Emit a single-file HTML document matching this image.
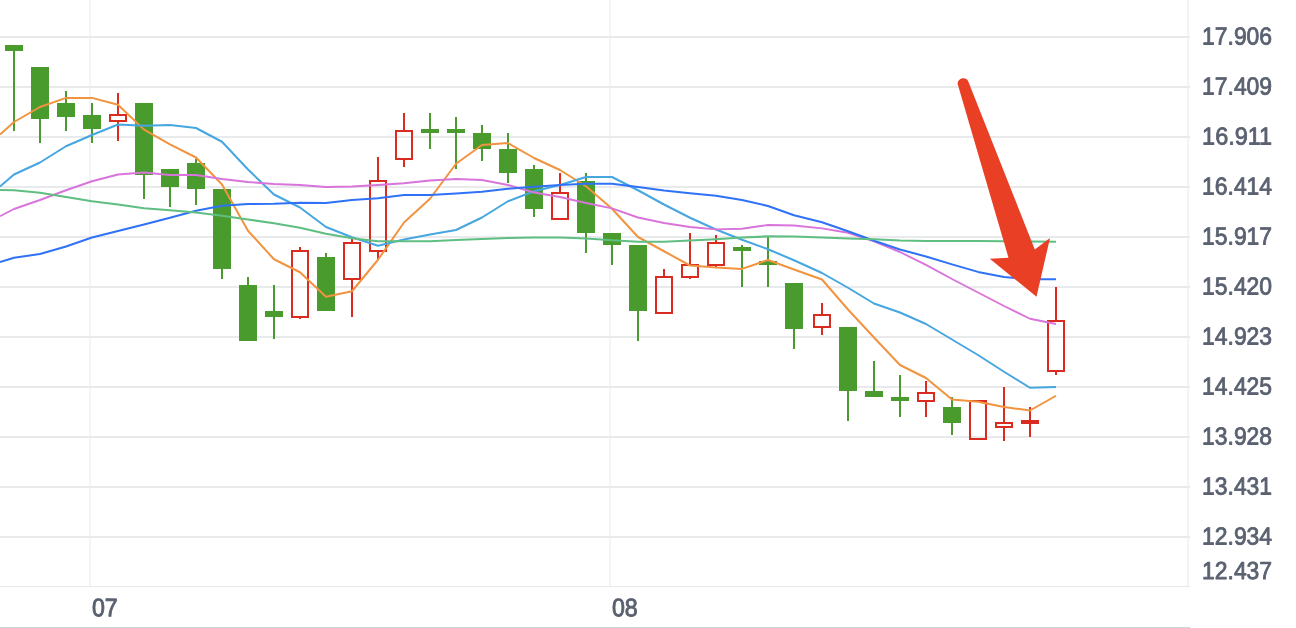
<!DOCTYPE html>
<html lang="zh"><head><meta charset="utf-8"><title>K线图</title>
<style>
html,body{margin:0;padding:0;background:#fff;}
body{width:1296px;height:628px;overflow:hidden;}
svg{display:block}
svg{will-change:transform;}
text{font-family:"Liberation Sans","DejaVu Sans",sans-serif;font-size:24.6px;fill:#5a6170;stroke:#5a6170;stroke-width:0.85px;stroke-linejoin:round;}
text.b{font-size:25.3px;stroke-width:0.95px;}
</style></head><body>
<svg width="1296" height="628" viewBox="0 0 1296 628">
<rect width="1296" height="628" fill="#fff"/>

<g fill="#f3f4f5">
<rect x="89" y="0" width="2" height="586"/>
<rect x="609" y="0" width="2" height="586"/>
<rect x="1187" y="0" width="2" height="586"/>
</g>
<g fill="#e8eaeb">
<rect x="0" y="36" width="1190" height="2"/>
<rect x="0" y="86" width="1190" height="2"/>
<rect x="0" y="136" width="1190" height="2"/>
<rect x="0" y="186" width="1190" height="2"/>
<rect x="0" y="236" width="1190" height="2"/>
<rect x="0" y="286" width="1190" height="2"/>
<rect x="0" y="336" width="1190" height="2"/>
<rect x="0" y="386" width="1190" height="2"/>
<rect x="0" y="436" width="1190" height="2"/>
<rect x="0" y="486" width="1190" height="2"/>
<rect x="0" y="536" width="1190" height="2"/>
<rect x="0" y="586" width="1190" height="1.1" fill="#e6e8ea"/>
</g>
<rect x="0" y="627" width="1190" height="1" fill="#cdd2d6"/>
<g shape-rendering="crispEdges">
<rect x="13" y="45" width="2" height="86" fill="#4a9b2d"/>
<rect x="5" y="45" width="18" height="6" fill="#4a9b2d"/>
<rect x="39" y="67" width="2" height="76" fill="#4a9b2d"/>
<rect x="31" y="67" width="18" height="52" fill="#4a9b2d"/>
<rect x="65" y="91" width="2" height="40" fill="#4a9b2d"/>
<rect x="57" y="103" width="18" height="14" fill="#4a9b2d"/>
<rect x="91" y="103" width="2" height="40" fill="#4a9b2d"/>
<rect x="83" y="115" width="18" height="14" fill="#4a9b2d"/>
<rect x="117" y="93" width="2" height="21" fill="#d92b20"/>
<rect x="117" y="122" width="2" height="19" fill="#d92b20"/>
<rect x="110" y="115" width="16" height="6" fill="none" stroke="#d92b20" stroke-width="2"/>
<rect x="143" y="103" width="2" height="96" fill="#4a9b2d"/>
<rect x="135" y="103" width="18" height="72" fill="#4a9b2d"/>
<rect x="169" y="169" width="2" height="38" fill="#4a9b2d"/>
<rect x="161" y="169" width="18" height="18" fill="#4a9b2d"/>
<rect x="195" y="159" width="2" height="46" fill="#4a9b2d"/>
<rect x="187" y="163" width="18" height="26" fill="#4a9b2d"/>
<rect x="221" y="189" width="2" height="90" fill="#4a9b2d"/>
<rect x="213" y="189" width="18" height="80" fill="#4a9b2d"/>
<rect x="247" y="277" width="2" height="64" fill="#4a9b2d"/>
<rect x="239" y="285" width="18" height="56" fill="#4a9b2d"/>
<rect x="273" y="285" width="2" height="54" fill="#4a9b2d"/>
<rect x="265" y="311" width="18" height="6" fill="#4a9b2d"/>
<rect x="299" y="247" width="2" height="3" fill="#d92b20"/>
<rect x="299" y="318" width="2" height="1" fill="#d92b20"/>
<rect x="292" y="251" width="16" height="66" fill="none" stroke="#d92b20" stroke-width="2"/>
<rect x="325" y="253" width="2" height="58" fill="#4a9b2d"/>
<rect x="317" y="257" width="18" height="54" fill="#4a9b2d"/>
<rect x="351" y="239" width="2" height="3" fill="#d92b20"/>
<rect x="351" y="280" width="2" height="37" fill="#d92b20"/>
<rect x="344" y="243" width="16" height="36" fill="none" stroke="#d92b20" stroke-width="2"/>
<rect x="377" y="157" width="2" height="23" fill="#d92b20"/>
<rect x="377" y="252" width="2" height="8" fill="#d92b20"/>
<rect x="370" y="181" width="16" height="70" fill="none" stroke="#d92b20" stroke-width="2"/>
<rect x="403" y="113" width="2" height="17" fill="#d92b20"/>
<rect x="403" y="160" width="2" height="7" fill="#d92b20"/>
<rect x="396" y="131" width="16" height="28" fill="none" stroke="#d92b20" stroke-width="2"/>
<rect x="429" y="113" width="2" height="36" fill="#4a9b2d"/>
<rect x="421" y="129" width="18" height="4" fill="#4a9b2d"/>
<rect x="455" y="117" width="2" height="52" fill="#4a9b2d"/>
<rect x="447" y="129" width="18" height="4" fill="#4a9b2d"/>
<rect x="481" y="125" width="2" height="36" fill="#4a9b2d"/>
<rect x="473" y="133" width="18" height="16" fill="#4a9b2d"/>
<rect x="507" y="133" width="2" height="50" fill="#4a9b2d"/>
<rect x="499" y="149" width="18" height="24" fill="#4a9b2d"/>
<rect x="533" y="165" width="2" height="52" fill="#4a9b2d"/>
<rect x="525" y="169" width="18" height="40" fill="#4a9b2d"/>
<rect x="559" y="173" width="2" height="19" fill="#d92b20"/>
<rect x="552" y="193" width="16" height="26" fill="none" stroke="#d92b20" stroke-width="2"/>
<rect x="585" y="173" width="2" height="80" fill="#4a9b2d"/>
<rect x="577" y="181" width="18" height="52" fill="#4a9b2d"/>
<rect x="611" y="233" width="2" height="32" fill="#4a9b2d"/>
<rect x="603" y="233" width="18" height="12" fill="#4a9b2d"/>
<rect x="637" y="245" width="2" height="96" fill="#4a9b2d"/>
<rect x="629" y="245" width="18" height="66" fill="#4a9b2d"/>
<rect x="663" y="269" width="2" height="7" fill="#d92b20"/>
<rect x="656" y="277" width="16" height="36" fill="none" stroke="#d92b20" stroke-width="2"/>
<rect x="689" y="233" width="2" height="31" fill="#d92b20"/>
<rect x="689" y="278" width="2" height="1" fill="#d92b20"/>
<rect x="682" y="265" width="16" height="12" fill="none" stroke="#d92b20" stroke-width="2"/>
<rect x="715" y="235" width="2" height="7" fill="#d92b20"/>
<rect x="715" y="266" width="2" height="1" fill="#d92b20"/>
<rect x="708" y="243" width="16" height="22" fill="none" stroke="#d92b20" stroke-width="2"/>
<rect x="741" y="245" width="2" height="42" fill="#4a9b2d"/>
<rect x="733" y="247" width="18" height="4" fill="#4a9b2d"/>
<rect x="767" y="237" width="2" height="50" fill="#4a9b2d"/>
<rect x="759" y="261" width="18" height="4" fill="#4a9b2d"/>
<rect x="793" y="283" width="2" height="66" fill="#4a9b2d"/>
<rect x="785" y="283" width="18" height="46" fill="#4a9b2d"/>
<rect x="821" y="303" width="2" height="11" fill="#d92b20"/>
<rect x="821" y="328" width="2" height="7" fill="#d92b20"/>
<rect x="814" y="315" width="16" height="12" fill="none" stroke="#d92b20" stroke-width="2"/>
<rect x="847" y="327" width="2" height="94" fill="#4a9b2d"/>
<rect x="839" y="327" width="18" height="64" fill="#4a9b2d"/>
<rect x="873" y="361" width="2" height="36" fill="#4a9b2d"/>
<rect x="865" y="391" width="18" height="6" fill="#4a9b2d"/>
<rect x="899" y="375" width="2" height="42" fill="#4a9b2d"/>
<rect x="891" y="397" width="18" height="4" fill="#4a9b2d"/>
<rect x="925" y="381" width="2" height="11" fill="#d92b20"/>
<rect x="925" y="402" width="2" height="15" fill="#d92b20"/>
<rect x="918" y="393" width="16" height="8" fill="none" stroke="#d92b20" stroke-width="2"/>
<rect x="951" y="397" width="2" height="38" fill="#4a9b2d"/>
<rect x="943" y="407" width="18" height="16" fill="#4a9b2d"/>
<rect x="970" y="401" width="16" height="38" fill="none" stroke="#d92b20" stroke-width="2"/>
<rect x="1003" y="387" width="2" height="35" fill="#d92b20"/>
<rect x="1003" y="428" width="2" height="13" fill="#d92b20"/>
<rect x="996" y="423" width="16" height="4" fill="none" stroke="#d92b20" stroke-width="2"/>
<rect x="1029" y="407" width="2" height="30" fill="#d92b20"/>
<rect x="1021" y="420" width="18" height="4" fill="#d92b20"/>
<rect x="1055" y="287" width="2" height="33" fill="#d92b20"/>
<rect x="1055" y="372" width="2" height="3" fill="#d92b20"/>
<rect x="1048" y="321" width="16" height="50" fill="none" stroke="#d92b20" stroke-width="2"/>
</g>
<polyline points="0,134.6 14,122 40,107 66,97.9 92,97.9 118,104.8 144,129.6 170,144.4 196,157.5 222,184.5 248,230.75 274,259.25 300,272.25 326,296.75 352,291.25 378,259.75 404,222.5 430,198.75 456,163.75 482,145 508,143 534,158 560,170 586,186.25 612,208.75 638,237 664,251.25 690,265.5 716,267.5 742,268.9 768,260 794,269.5 822,279.5 848,309.5 874,337.5 900,365 926,378 952,399.5 978,401.75 1004,407 1030,410.5 1056,395.75" fill="none" stroke="#f1933f" stroke-width="2.0" stroke-linejoin="round" stroke-linecap="butt" opacity="1"/>
<polyline points="0,186.5 14,174.5 40,162.5 66,146.25 92,135 118,124.5 144,125.75 170,125 196,128 222,141.75 248,169.5 274,194.5 300,207.5 326,227 352,237.25 378,245.75 404,239.5 430,234.5 456,230 482,217.5 508,201.25 534,191.25 560,185 586,177 612,177 638,190.25 664,204.5 690,217.75 716,229.5 742,239.75 768,249.25 794,260.25 822,273 848,287.75 874,303.5 900,312.5 926,324 952,339.5 978,355 1004,371.75 1030,387.75 1056,387" fill="none" stroke="#46a6e0" stroke-width="2.0" stroke-linejoin="round" stroke-linecap="butt" opacity="1"/>
<polyline points="0,216.25 14,209 40,200 66,190.25 92,181.25 118,174.5 144,172.5 170,175 196,175 222,179 248,182 274,184 300,185 326,187 352,186.5 378,185 404,183.25 430,180.5 456,179 482,180 508,185 534,192.5 560,197 586,203 612,208.4 638,217.5 664,223 690,227 716,229.4 742,228.75 768,225 794,225.5 822,228.4 848,232.75 874,241.25 900,252 926,264.8 952,279 978,292.5 1004,306 1030,318.75 1056,324" fill="none" stroke="#d874da" stroke-width="1.9" stroke-linejoin="round" stroke-linecap="butt" opacity="1"/>
<polyline points="0,262 14,257.75 40,254 66,246.5 92,237.5 118,231 144,224.5 170,217.75 196,210.75 222,205.75 248,204 274,203.75 300,202.75 326,203 352,200 378,198.25 404,195 430,195 456,193.5 482,191.75 508,188.75 534,186.75 560,185 586,183.75 612,183.75 638,187 664,190.5 690,193.25 716,195.75 742,200 768,206 794,215.25 822,222.25 848,231.25 874,240.75 900,249.5 926,256.5 952,264.4 978,271.9 1004,277 1030,279.25 1056,279.25" fill="none" stroke="#2f72f7" stroke-width="2.0" stroke-linejoin="round" stroke-linecap="butt" opacity="1"/>
<polyline points="0,190.0 14,190.25 40,192.75 66,197 92,201.25 118,204.5 144,208.25 170,210.25 196,212.5 222,215.75 248,219.5 274,223.25 300,227.75 326,233.75 352,238.25 378,241.25 404,241.25 430,241.25 456,240 482,239 508,238 534,237.5 560,237.5 586,238.5 612,240.25 638,241.75 664,241.75 690,240.5 716,239.25 742,237.5 768,236.4 794,236.5 822,237.5 848,238.5 874,239.25 900,240.5 926,241 952,241 978,241 1004,241.25 1030,241.5 1056,241.75" fill="none" stroke="#5fbe82" stroke-width="2.2" stroke-linejoin="round" stroke-linecap="butt" opacity="1"/>
<path d="M957.8,84.5 C956.5,78.5 966,75.5 968.3,81.5 L1034.8,249.4 L1050,238 L1036.5,296.8 L989.8,258.7 L1008.5,257.8 Z" fill="#e83f25"/>
<text x="1202.1" y="44.6" transform="rotate(0.05 1237 37.0)" textLength="70" lengthAdjust="spacingAndGlyphs">17.906</text>
<text x="1202.1" y="94.6" transform="rotate(0.05 1237 87.0)" textLength="70" lengthAdjust="spacingAndGlyphs">17.409</text>
<text x="1202.1" y="144.6" transform="rotate(0.05 1237 137.0)" textLength="70" lengthAdjust="spacingAndGlyphs">16.911</text>
<text x="1202.1" y="194.6" transform="rotate(0.05 1237 187.0)" textLength="70" lengthAdjust="spacingAndGlyphs">16.414</text>
<text x="1202.1" y="244.6" transform="rotate(0.05 1237 237.0)" textLength="70" lengthAdjust="spacingAndGlyphs">15.917</text>
<text x="1202.1" y="294.6" transform="rotate(0.05 1237 287.0)" textLength="70" lengthAdjust="spacingAndGlyphs">15.420</text>
<text x="1202.1" y="344.6" transform="rotate(0.05 1237 337.0)" textLength="70" lengthAdjust="spacingAndGlyphs">14.923</text>
<text x="1202.1" y="394.6" transform="rotate(0.05 1237 387.0)" textLength="70" lengthAdjust="spacingAndGlyphs">14.425</text>
<text x="1202.1" y="444.6" transform="rotate(0.05 1237 437.0)" textLength="70" lengthAdjust="spacingAndGlyphs">13.928</text>
<text x="1202.1" y="494.6" transform="rotate(0.05 1237 487.0)" textLength="70" lengthAdjust="spacingAndGlyphs">13.431</text>
<text x="1202.1" y="544.6" transform="rotate(0.05 1237 537.0)" textLength="70" lengthAdjust="spacingAndGlyphs">12.934</text>
<text x="1202.1" y="579.0" transform="rotate(0.05 1237 571.4)" textLength="70" lengthAdjust="spacingAndGlyphs">12.437</text>
<text class="b" x="91.9" y="616.2" transform="rotate(0.05 104 607)" textLength="25.8" lengthAdjust="spacingAndGlyphs">07</text>
<text class="b" x="611.9" y="616.2" transform="rotate(0.05 624 607)" textLength="25.8" lengthAdjust="spacingAndGlyphs">08</text>
</svg></body></html>
